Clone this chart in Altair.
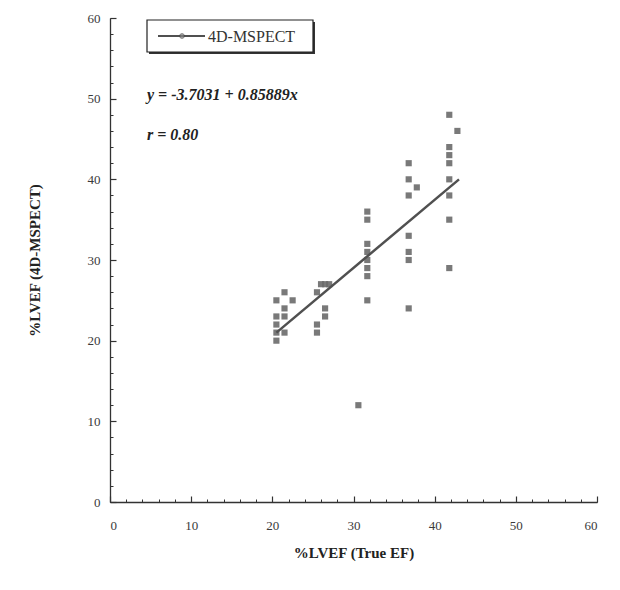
import altair as alt
import pandas as pd

# ---- data ----
true_ef = [20.5, 20.5, 20.5, 20.5, 20.5, 21.5, 21.5, 21.5, 21.5, 22.5,
           25.5, 25.5, 25.5, 26.0, 26.5, 26.5, 26.5, 27.0,
           31.7, 31.7, 31.7, 31.7, 31.7, 31.7, 31.7, 31.7, 30.6,
           36.8, 36.8, 36.8, 36.8, 36.8, 36.8, 36.8, 37.8,
           41.8, 41.8, 41.8, 41.8, 41.8, 41.8, 41.8, 41.8, 42.8]
mspect_ef = [25, 23, 22, 21, 20, 26, 24, 23, 21, 25,
             26, 22, 21, 27, 27, 24, 23, 27,
             36, 35, 32, 31, 30, 29, 28, 25, 12,
             42, 40, 38, 33, 31, 30, 24, 39,
             48, 44, 43, 42, 40, 38, 35, 29, 46]
fit_x = [20.5, 43.0]
fit_y = [21.0, 40.0]
major_ticks = [0, 10, 20, 30, 40, 50, 60]
minor_ticks = list(range(0, 61, 2))
series_name = "4D-MSPECT"
equation = "y = -3.7031 + 0.85889x"
r_text = "r = 0.80"
x_title = "%LVEF (True EF)"
y_title = "%LVEF (4D-MSPECT)"

W, H = 487, 484
FONT = "Liberation Serif"
AX = "#333333"

pts = pd.DataFrame({"x": true_ef, "y": mspect_ef})
fit = pd.DataFrame({"x": fit_x, "y": fit_y})
one = pd.DataFrame({"t": [series_name]})

xs = alt.Scale(domain=[0, 60], nice=False)
ys = alt.Scale(domain=[0, 60], nice=False)

x_lab_axis = alt.Axis(orient="bottom", values=major_ticks, ticks=False, tickSize=0, domain=False,
                      grid=False, labelPadding=17, labelFont=FONT, labelFontSize=13,
                      labelColor="#3a3a3a", title=x_title, titleFont=FONT, titleFontSize=15,
                      titleFontWeight="bold", titleColor="#222", titleY=50,
                      titleBaseline="middle", format="d")
y_lab_axis = alt.Axis(orient="left", values=major_ticks, ticks=False, tickSize=0, domain=False,
                      grid=False, labelPadding=10, labelFont=FONT, labelFontSize=13,
                      labelColor="#3a3a3a", title=y_title, titleFont=FONT, titleFontSize=15,
                      titleFontWeight="bold", titleColor="#222", titleX=-76,
                      titleBaseline="middle", format="d")

x_major = alt.Axis(orient="top", offset=-H, values=major_ticks, labels=False, title=None,
                   tickSize=6, tickColor=AX, tickWidth=1.2, domainColor=AX, domainWidth=1.3, grid=False)
y_major = alt.Axis(orient="right", offset=-W, values=major_ticks, labels=False, title=None,
                   tickSize=6, tickColor=AX, tickWidth=1.2, domainColor=AX, domainWidth=1.3, grid=False)
x_minor = alt.Axis(orient="top", offset=-H, values=minor_ticks, labels=False, title=None,
                   tickSize=3, tickColor=AX, tickWidth=1, domain=False, grid=False)
y_minor = alt.Axis(orient="right", offset=-W, values=minor_ticks, labels=False, title=None,
                   tickSize=3, tickColor=AX, tickWidth=1, domain=False, grid=False)

points = alt.Chart(pts).mark_square(size=38, color="#6a6a6a", opacity=0.9).encode(
    x=alt.X("x:Q", scale=xs, axis=x_lab_axis),
    y=alt.Y("y:Q", scale=ys, axis=y_lab_axis),
)
line = alt.Chart(fit).mark_line(color="#505050", strokeWidth=2.5).encode(
    x=alt.X("x:Q", scale=xs, axis=x_major),
    y=alt.Y("y:Q", scale=ys, axis=y_major),
)
line_minor = alt.Chart(fit).mark_line(opacity=0).encode(
    x=alt.X("x:Q", scale=xs, axis=x_minor),
    y=alt.Y("y:Q", scale=ys, axis=y_minor),
)

# legend box (drawn)
shadow = alt.Chart(one).mark_rect(fill="#333333").encode(
    x=alt.value(39), x2=alt.value(205), y=alt.value(4), y2=alt.value(36))
box = alt.Chart(one).mark_rect(fill="white", stroke="#222222", strokeWidth=1.2).encode(
    x=alt.value(37), x2=alt.value(203), y=alt.value(2), y2=alt.value(34))
leg_line = alt.Chart(one).mark_rule(color="#505050", strokeWidth=2).encode(
    x=alt.value(48), x2=alt.value(95), y=alt.value(18))
leg_pt = alt.Chart(one).mark_point(shape="circle", filled=True, size=22, color="#888888",
                                   stroke="#444444", strokeWidth=1).encode(
    x=alt.value(72), y=alt.value(18))
leg_txt = alt.Chart(one).mark_text(align="left", baseline="middle", font=FONT, fontSize=16,
                                   color="#333333").encode(
    x=alt.value(98), y=alt.value(19), text="t:N")

eq = alt.Chart(pd.DataFrame({"t": [equation]})).mark_text(
    align="left", baseline="middle", font=FONT, fontSize=16, fontStyle="italic",
    fontWeight="bold", color="#222222").encode(x=alt.value(37), y=alt.value(77), text="t:N")
rr = alt.Chart(pd.DataFrame({"t": [r_text]})).mark_text(
    align="left", baseline="middle", font=FONT, fontSize=16, fontStyle="italic",
    fontWeight="bold", color="#222222").encode(x=alt.value(37), y=alt.value(117), text="t:N")

chart = alt.layer(points, line, line_minor, shadow, box, leg_line, leg_pt, leg_txt, eq, rr).properties(
    width=W, height=H,
    autosize=alt.AutoSizeParams(type="none"),
    padding={"left": 102, "top": 10, "right": 13, "bottom": 76},
    background="white",
).configure_view(stroke=None)

chart.save("out.html", embed_options={"renderer": "svg", "actions": False})
